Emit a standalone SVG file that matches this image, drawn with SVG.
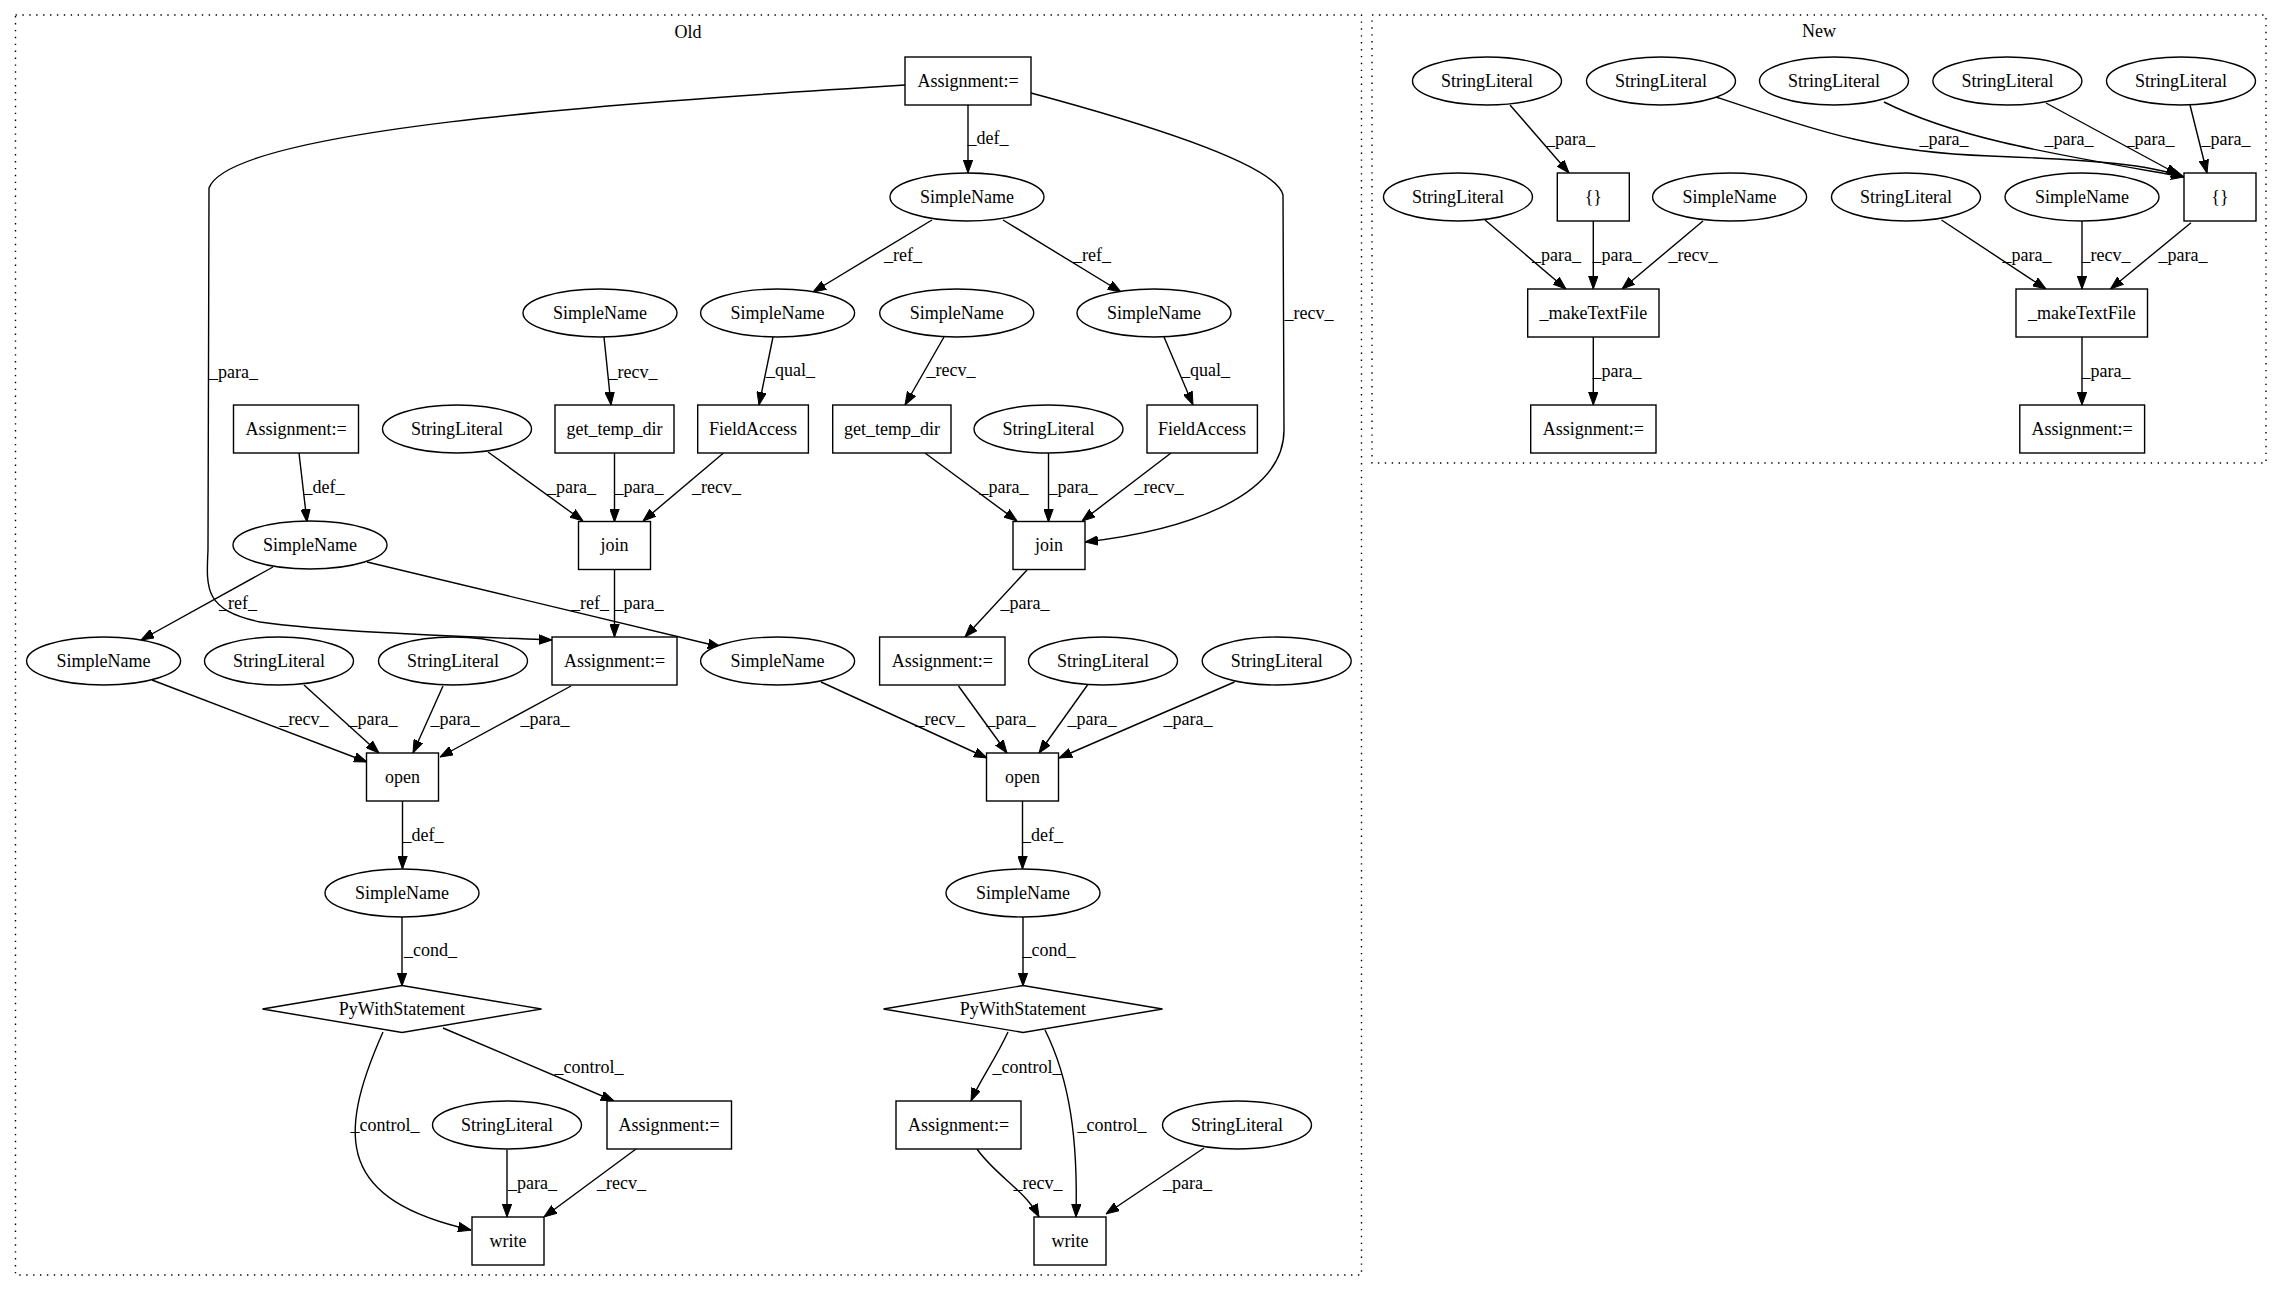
<svg xmlns="http://www.w3.org/2000/svg" width="2283" height="1292" viewBox="0 0 2283 1292">
<defs>
<style>
text{font-family:"Liberation Serif","Times New Roman",serif;font-size:18px;fill:#000;text-anchor:middle}
.n ellipse,.n rect,.n polygon{fill:#fff;stroke:#000;stroke-width:1.4}
.cl{fill:none;stroke:#000;stroke-width:1.4;stroke-dasharray:1.4,5.5}
.e path{fill:none;stroke:#000;stroke-width:1.4;marker-end:url(#ah)}
</style>
<marker id="ah" viewBox="0 0 13 10" refX="13" refY="5" markerWidth="13" markerHeight="10" markerUnits="userSpaceOnUse" orient="auto">
<path d="M0,0.3 L13,5 L0,9.7 z" fill="#000" stroke="#000" stroke-width="1"/>
</marker>
</defs>
<rect width="2283" height="1292" fill="#fff"/>
<g id="cluster_old">
<rect class="cl" x="15.5" y="15" width="1346" height="1260"/>
<text x="688" y="38">Old</text>
</g>
<g id="cluster_new">
<rect class="cl" x="1372" y="15" width="894" height="448"/>
<text x="1819" y="37">New</text>
</g>

<g id="edges" class="e">
<path d="M968,105 L968,173"/>
<path d="M905,85 C600,104 230,130 209,188 L208,550 C206,590 205,610 260,622 C330,632 450,636 552,640"/>
<path d="M1031,93 C1150,125 1276,165 1283,195 L1284,430 C1284,495 1190,530 1085,542"/>
<path d="M932,220 L813,292"/>
<path d="M1003,220 L1121,292"/>
<path d="M604,337 L611,405"/>
<path d="M773,337 L759,405"/>
<path d="M944,337 L905,405"/>
<path d="M1164,337 L1193,405"/>
<path d="M299,453 L307,522"/>
<path d="M488,452 L583,521"/>
<path d="M614.5,453 L614.5,522"/>
<path d="M723.5,453 L643,521"/>
<path d="M925,453 L1017,521"/>
<path d="M1048.5,453 L1048.5,522"/>
<path d="M1171,453 L1082,521"/>
<path d="M614.5,569 L614.5,637"/>
<path d="M273,567 L141,640"/>
<path d="M367,562 L721,647"/>
<path d="M1027,570 L965,637"/>
<path d="M152,680 L367,762"/>
<path d="M304,685 L379,753"/>
<path d="M443,686 L413,753"/>
<path d="M571,686 L440,757"/>
<path d="M821,682 L987,758"/>
<path d="M958.5,686 L1007,753"/>
<path d="M1087.5,685 L1039,753"/>
<path d="M1234.5,682 L1059,758"/>
<path d="M402.5,801 L402.5,869"/>
<path d="M1022.5,801 L1022.5,869"/>
<path d="M402,917 L402,986"/>
<path d="M1023,917 L1023,986"/>
<path d="M383,1032 C335,1140 340,1200 471,1230"/>
<path d="M443,1028 L614,1101"/>
<path d="M507,1150 L507,1217"/>
<path d="M636,1149 L544,1217"/>
<path d="M1008,1032 C995,1060 980,1080 971,1101"/>
<path d="M1045,1030 C1070,1080 1078,1140 1076,1217"/>
<path d="M977,1149 C995,1175 1025,1190 1039,1217"/>
<path d="M1204,1148 L1106,1214"/>

<path d="M1510,105 L1569,173"/>
<path d="M1716,97 C1830,135 1880,152 1990,156 C2100,160 2150,165 2184,177"/>
<path d="M1884,102 C1960,140 2060,155 2184,177"/>
<path d="M2046,103 L2179,175"/>
<path d="M2190,105 L2207,173"/>
<path d="M1485,220 L1566,289"/>
<path d="M1593.3,221 L1593.3,289"/>
<path d="M1703,221 L1622,289"/>
<path d="M1941.5,220 L2046,289"/>
<path d="M2082,221 L2082,289"/>
<path d="M2191,222.7 L2110.4,289"/>
<path d="M1593.3,337 L1593.3,405"/>
<path d="M2082,337 L2082,405"/>
</g>

<g id="edge_labels">
<text x="988" y="144">_def_</text>
<text x="233.5" y="378">_para_</text>
<text x="1309" y="319">_recv_</text>
<text x="903" y="261">_ref_</text>
<text x="1092" y="261">_ref_</text>
<text x="633" y="378">_recv_</text>
<text x="790.5" y="376">_qual_</text>
<text x="951" y="376">_recv_</text>
<text x="1205.6" y="376">_qual_</text>
<text x="324" y="493">_def_</text>
<text x="571.4" y="493">_para_</text>
<text x="639" y="493">_para_</text>
<text x="716.6" y="493">_recv_</text>
<text x="1004" y="493">_para_</text>
<text x="1073" y="493">_para_</text>
<text x="1159" y="493">_recv_</text>
<text x="639" y="609">_para_</text>
<text x="238" y="609">_ref_</text>
<text x="590" y="609">_ref_</text>
<text x="1025" y="609">_para_</text>
<text x="304" y="725">_recv_</text>
<text x="373" y="725">_para_</text>
<text x="455" y="725">_para_</text>
<text x="545" y="725">_para_</text>
<text x="940" y="725">_recv_</text>
<text x="1011" y="725">_para_</text>
<text x="1092" y="725">_para_</text>
<text x="1188" y="725">_para_</text>
<text x="423" y="841">_def_</text>
<text x="1042.6" y="841">_def_</text>
<text x="430.5" y="956">_cond_</text>
<text x="1049" y="956">_cond_</text>
<text x="385" y="1131">_control_</text>
<text x="589" y="1073">_control_</text>
<text x="532.6" y="1189">_para_</text>
<text x="621.5" y="1189">_recv_</text>
<text x="1027" y="1073">_control_</text>
<text x="1112" y="1131">_control_</text>
<text x="1038" y="1189">_recv_</text>
<text x="1187.5" y="1189">_para_</text>

<text x="1570.4" y="145">_para_</text>
<text x="1944" y="145">_para_</text>
<text x="2069" y="145">_para_</text>
<text x="2150" y="145">_para_</text>
<text x="2226" y="145">_para_</text>
<text x="1556.6" y="261">_para_</text>
<text x="1617" y="261">_para_</text>
<text x="1693" y="261">_recv_</text>
<text x="2027" y="261">_para_</text>
<text x="2106" y="261">_recv_</text>
<text x="2183" y="261">_para_</text>
<text x="1617" y="377">_para_</text>
<text x="2106" y="377">_para_</text>
</g>

<g id="n1" class="n"><rect x="905" y="57" width="126" height="48"/><text x="968" y="87">Assignment:=</text></g>
<g id="n2" class="n"><ellipse cx="967" cy="197" rx="77" ry="24"/><text x="967" y="203">SimpleName</text></g>
<g id="n3" class="n"><ellipse cx="600" cy="313" rx="77" ry="24"/><text x="600" y="319">SimpleName</text></g>
<g id="n4" class="n"><ellipse cx="777.6" cy="313" rx="77" ry="24"/><text x="777.6" y="319">SimpleName</text></g>
<g id="n5" class="n"><ellipse cx="956.7" cy="313" rx="77" ry="24"/><text x="956.7" y="319">SimpleName</text></g>
<g id="n6" class="n"><ellipse cx="1154" cy="313" rx="77" ry="24"/><text x="1154" y="319">SimpleName</text></g>
<g id="n7" class="n"><rect x="233.5" y="405" width="125" height="48"/><text x="296" y="435">Assignment:=</text></g>
<g id="n8" class="n"><ellipse cx="457" cy="429" rx="74.5" ry="24"/><text x="457" y="435">StringLiteral</text></g>
<g id="n9" class="n"><rect x="555" y="405" width="119" height="48"/><text x="614.5" y="435">get_temp_dir</text></g>
<g id="n10" class="n"><rect x="697.7" y="405" width="110.7" height="48"/><text x="753" y="435">FieldAccess</text></g>
<g id="n11" class="n"><rect x="832.7" y="405" width="118.3" height="48"/><text x="892" y="435">get_temp_dir</text></g>
<g id="n12" class="n"><ellipse cx="1048.5" cy="429" rx="74.5" ry="24"/><text x="1048.5" y="435">StringLiteral</text></g>
<g id="n13" class="n"><rect x="1147" y="405" width="110.4" height="48"/><text x="1202" y="435">FieldAccess</text></g>
<g id="n14" class="n"><rect x="578.5" y="521.5" width="72" height="48"/><text x="614.5" y="551">join</text></g>
<g id="n15" class="n"><ellipse cx="310" cy="545" rx="77" ry="24"/><text x="310" y="551">SimpleName</text></g>
<g id="n16" class="n"><rect x="1013" y="521.5" width="72" height="48"/><text x="1049" y="551">join</text></g>
<g id="n17" class="n"><ellipse cx="103.6" cy="661" rx="77" ry="24"/><text x="103.6" y="667">SimpleName</text></g>
<g id="n18" class="n"><ellipse cx="279" cy="661" rx="74.5" ry="24"/><text x="279" y="667">StringLiteral</text></g>
<g id="n19" class="n"><ellipse cx="453" cy="661" rx="74.5" ry="24"/><text x="453" y="667">StringLiteral</text></g>
<g id="n20" class="n"><rect x="552" y="637" width="125" height="48"/><text x="614.5" y="667">Assignment:=</text></g>
<g id="n21" class="n"><ellipse cx="777.6" cy="661" rx="77" ry="24"/><text x="777.6" y="667">SimpleName</text></g>
<g id="n22" class="n"><rect x="879.6" y="637" width="125.4" height="48"/><text x="942.3" y="667">Assignment:=</text></g>
<g id="n23" class="n"><ellipse cx="1103" cy="661" rx="74.5" ry="24"/><text x="1103" y="667">StringLiteral</text></g>
<g id="n24" class="n"><ellipse cx="1276.7" cy="661" rx="74.5" ry="24"/><text x="1276.7" y="667">StringLiteral</text></g>
<g id="n25" class="n"><rect x="366.5" y="753" width="72" height="48"/><text x="402.5" y="783">open</text></g>
<g id="n26" class="n"><rect x="986.5" y="753" width="72" height="48"/><text x="1022.5" y="783">open</text></g>
<g id="n27" class="n"><ellipse cx="402" cy="893" rx="77" ry="24"/><text x="402" y="899">SimpleName</text></g>
<g id="n28" class="n"><ellipse cx="1023" cy="893" rx="77" ry="24"/><text x="1023" y="899">SimpleName</text></g>
<g id="n29" class="n"><polygon points="262.5,1009 402,985.5 541.5,1009 402,1032.5"/><text x="402" y="1015">PyWithStatement</text></g>
<g id="n30" class="n"><polygon points="883.5,1009 1023,985.5 1162.5,1009 1023,1032.5"/><text x="1023" y="1015">PyWithStatement</text></g>
<g id="n31" class="n"><ellipse cx="507" cy="1125" rx="74.5" ry="24"/><text x="507" y="1131">StringLiteral</text></g>
<g id="n32" class="n"><rect x="607" y="1101" width="124.5" height="48"/><text x="669" y="1131">Assignment:=</text></g>
<g id="n33" class="n"><rect x="472" y="1217" width="72" height="48"/><text x="508" y="1247">write</text></g>
<g id="n34" class="n"><rect x="896" y="1101" width="125" height="48"/><text x="958.5" y="1131">Assignment:=</text></g>
<g id="n35" class="n"><ellipse cx="1237" cy="1125" rx="74.5" ry="24"/><text x="1237" y="1131">StringLiteral</text></g>
<g id="n36" class="n"><rect x="1034" y="1217" width="72" height="48"/><text x="1070" y="1247">write</text></g>

<g id="m1" class="n"><ellipse cx="1487" cy="81" rx="74.5" ry="24"/><text x="1487" y="87">StringLiteral</text></g>
<g id="m2" class="n"><ellipse cx="1661" cy="81" rx="74.5" ry="24"/><text x="1661" y="87">StringLiteral</text></g>
<g id="m3" class="n"><ellipse cx="1834" cy="81" rx="74.5" ry="24"/><text x="1834" y="87">StringLiteral</text></g>
<g id="m4" class="n"><ellipse cx="2007.4" cy="81" rx="74.5" ry="24"/><text x="2007.4" y="87">StringLiteral</text></g>
<g id="m5" class="n"><ellipse cx="2181" cy="81" rx="74.5" ry="24"/><text x="2181" y="87">StringLiteral</text></g>
<g id="m6" class="n"><rect x="1557.3" y="173" width="72" height="48"/><text x="1593.3" y="203">{}</text></g>
<g id="m7" class="n"><ellipse cx="1458" cy="197" rx="74.5" ry="24"/><text x="1458" y="203">StringLiteral</text></g>
<g id="m8" class="n"><ellipse cx="1729.6" cy="197" rx="77" ry="24"/><text x="1729.6" y="203">SimpleName</text></g>
<g id="m9" class="n"><ellipse cx="1906" cy="197" rx="74.5" ry="24"/><text x="1906" y="203">StringLiteral</text></g>
<g id="m10" class="n"><ellipse cx="2082" cy="197" rx="77" ry="24"/><text x="2082" y="203">SimpleName</text></g>
<g id="m11" class="n"><rect x="2184" y="173" width="72" height="48"/><text x="2220" y="203">{}</text></g>
<g id="m12" class="n"><rect x="1527.7" y="289" width="131.3" height="48"/><text x="1593.3" y="319">_makeTextFile</text></g>
<g id="m13" class="n"><rect x="2016" y="289" width="131.5" height="48"/><text x="2081.8" y="319">_makeTextFile</text></g>
<g id="m14" class="n"><rect x="1530.7" y="405" width="125.3" height="48"/><text x="1593.3" y="435">Assignment:=</text></g>
<g id="m15" class="n"><rect x="2019.8" y="405" width="124.8" height="48"/><text x="2082" y="435">Assignment:=</text></g>
</svg>
